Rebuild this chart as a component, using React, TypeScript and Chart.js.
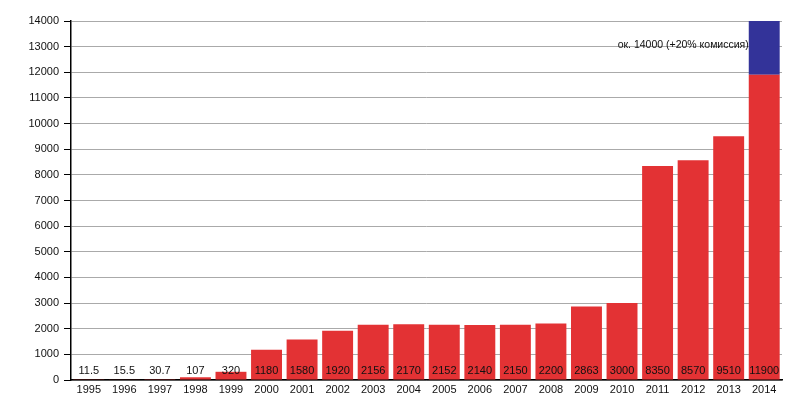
import React, { useEffect, useRef } from "react";
import { Chart, registerables } from "chart.js";

Chart.register(...registerables);

const years = ["1995","1996","1997","1998","1999","2000","2001","2002","2003","2004","2005","2006","2007","2008","2009","2010","2011","2012","2013","2014"];
const values = [11.5,15.5,30.7,107,320,1180,1580,1920,2156,2170,2152,2140,2150,2200,2863,3000,8350,8570,9510,11900];
const valueLabels = ["11.5","15.5","30.7","107","320","1180","1580","1920","2156","2170","2152","2140","2150","2200","2863","3000","8350","8570","9510","11900"];
const commission = [null,null,null,null,null,null,null,null,null,null,null,null,null,null,null,null,null,null,null,2100];
const annotationText = "ок. 14000 (+20% комиссия)";
const annotationValue = 13050;

const FONT = "'Liberation Sans', Arial, Helvetica, sans-serif";

const labelPlugin = {
  id: "valueLabels",
  afterDatasetsDraw(chart: any) {
    const ctx = chart.ctx;
    const x = chart.scales.x;
    const y = chart.scales.y;
    ctx.save();
    ctx.font = `11px ${FONT}`;
    ctx.fillStyle = "#111";
    ctx.textAlign = "center";
    ctx.textBaseline = "middle";
    valueLabels.forEach((t, i) => {
      ctx.fillText(t, x.getPixelForValue(i), y.bottom - 9);
    });
    const meta = chart.getDatasetMeta(1);
    const el = meta.data[meta.data.length - 1];
    if (el) {
      ctx.font = `10.5px ${FONT}`;
      ctx.textAlign = "right";
      ctx.fillText(annotationText, el.x - el.width / 2, y.getPixelForValue(annotationValue));
    }
    ctx.restore();
  },
};

export default function App() {
  const ref = useRef<HTMLCanvasElement>(null);
  useEffect(() => {
    document.body.style.margin = "0";
    const chart = new Chart(ref.current!, {
      type: "bar",
      data: {
        labels: years,
        datasets: [
          { data: values, backgroundColor: "#e33234", barPercentage: 0.87, categoryPercentage: 1 },
          { data: commission as any, backgroundColor: "#333399", barPercentage: 0.87, categoryPercentage: 1 },
        ],
      },
      options: {
        animation: false,
        responsive: false,
        layout: { padding: { top: 21, right: 18, left: 0, bottom: 0 } },
        plugins: { legend: { display: false }, tooltip: { enabled: false } },
        scales: {
          x: {
            stacked: true,
            grid: { display: false, drawTicks: false, tickLength: 0 },
            border: { display: true, color: "#000", width: 1.5 },
            ticks: { color: "#111", font: { family: FONT, size: 11 }, padding: 3, maxRotation: 0, autoSkip: false },
            afterFit: (s: any) => { s.height = 20; },
          },
          y: {
            stacked: true,
            min: 0,
            max: 14000,
            ticks: { stepSize: 1000, color: "#111", font: { family: FONT, size: 11 }, padding: 5, callback: (v: any) => String(v) },
            grid: { color: "#aaa", tickColor: "#000", tickLength: 7, lineWidth: 1 },
            border: { display: true, color: "#000", width: 1.5 },
            afterFit: (s: any) => { s.width = 71; },
          },
        },
      },
      plugins: [labelPlugin],
    });
    return () => chart.destroy();
  }, []);
  return (
    <div style={{ width: 800, height: 400 }}>
      <canvas ref={ref} width={800} height={400} style={{ display: "block" }} />
    </div>
  );
}
